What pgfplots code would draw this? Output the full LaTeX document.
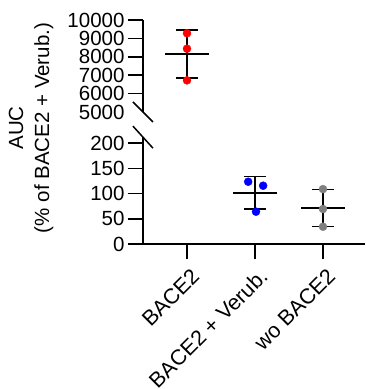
\documentclass[border=0pt]{standalone}
\usepackage{pgfplots}
\pgfplotsset{compat=1.18}
\usepackage{fontspec}
\setmainfont{Liberation Sans}
\begin{document}
\begin{tikzpicture}[x=1pt,y=1pt]
\useasboundingbox (0,0) rectangle (365,389);
\pgfplotsset{
 common/.style={
  scale only axis, width=222pt, xmin=-0.647, xmax=2.618,
  axis y line*=left, axis line style={-, line width=1.5pt},
  every tick/.style={black, line width=1.5pt},
  major tick length=15pt, tick align=outside,
  font=\fontsize{20.5}{24}\selectfont,
  scaled y ticks=false,
  /pgf/number format/assume math mode=true,
  /pgf/number format/set thousands separator={},
  clip=false,
 },
 ln/.style={black, line width=1.5pt, mark=none},
}
\begin{axis}[common, at={(143pt,277pt)}, anchor=south west, height=92pt,
  ymin=5000, ymax=10000, ytick={6000,7000,8000,9000,10000},
  extra y ticks={5000}, extra y tick style={tick style={draw=none}},
  axis x line=none]
% mean
\addplot[ln] coordinates {(-0.32,8146) (0.32,8146)};
% SD
\addplot[ln] coordinates {(0,6836) (0,9456)};
\addplot[ln] coordinates {(-0.16,9456) (0.16,9456)};
\addplot[ln] coordinates {(-0.16,6836) (0.16,6836)};
\addplot[only marks, mark=*, mark size=4pt, red, mark options={draw=red, fill=red}]
  coordinates {(0,9280) (0,8440) (0,6720)};
\draw[line width=1.5pt] ([xshift=-10pt,yshift=10pt]rel axis cs:0,0) -- ([xshift=10pt,yshift=-10pt]rel axis cs:0,0);
\end{axis}
\begin{axis}[common, at={(143pt,145pt)}, anchor=south west, height=106.8pt,
  ymin=0, ymax=212, ytick={0,50,100,150,200},
  axis x line*=bottom, xtick={0,1,2},
  xticklabels={BACE2, BACE2 + Verub., wo BACE2},
  xticklabel style={font=\fontsize{21.5}{24}\selectfont, xshift=3pt, yshift=-3pt, rotate=45, anchor=north east}]
\addplot[ln] coordinates {(0.68,101.6) (1.32,101.6)};
\addplot[ln] coordinates {(1,69.6) (1,133.6)};
\addplot[ln] coordinates {(0.84,133.6) (1.16,133.6)};
\addplot[ln] coordinates {(0.84,69.6) (1.16,69.6)};
\addplot[ln] coordinates {(1.68,71) (2.32,71)};
\addplot[ln] coordinates {(2,35) (2,108)};
\addplot[ln] coordinates {(1.84,108) (2.16,108)};
\addplot[ln] coordinates {(1.84,35) (2.16,35)};
\addplot[only marks, mark=*, mark size=4pt, blue, mark options={draw=blue, fill=blue}]
  coordinates {(0.9,123.6) (1.12,115.7) (1.015,64.1)};
\addplot[only marks, mark=*, mark size=4pt, gray, mark options={draw=gray, fill=gray}]
  coordinates {(2,109) (2,69.4) (2,34.3)};
\draw[line width=1.5pt] ([xshift=-10pt,yshift=11pt]rel axis cs:0,1) -- ([xshift=10pt,yshift=-11pt]rel axis cs:0,1);
\end{axis}
\node[rotate=90, align=center, font=\fontsize{20.5}{26}\selectfont] at (31,261) {AUC\\(\% of BACE2 + Verub.)};
\end{tikzpicture}
\end{document}
